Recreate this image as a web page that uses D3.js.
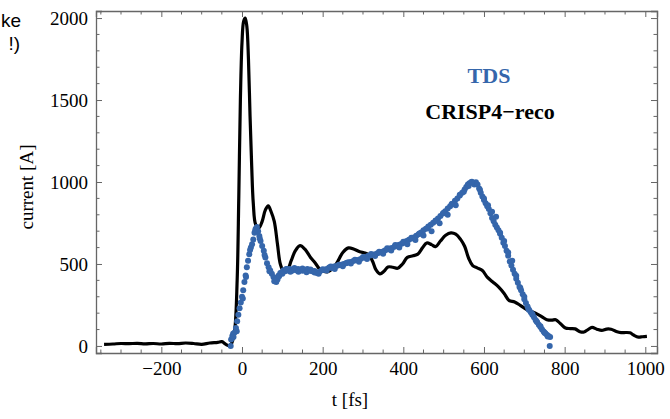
<!DOCTYPE html>
<html>
<head>
<meta charset="utf-8">
<script src="https://cdn.jsdelivr.net/npm/d3@7"></script>
<style>
  html, body { margin: 0; padding: 0; background: #fff; }
  svg { display: block; }
  text { font-family: "Liberation Serif", "Times New Roman", serif; }
</style>
</head>
<body>
<div id="chart"></div>
<script>
// CRISP4 reconstruction (solid black line): time [fs], current [A]
const crispT = [-342, -320, -300, -280, -260, -240, -220, -200, -180, -160, -140, -120, -100, -80, -60, -50, -40, -32, -25, -18,
  -12, -8, -4, 0, 4, 8, 12, 16, 20, 24, 28, 34, 42, 50, 58, 65, 72, 80, 88, 95,
  102, 112, 122, 132, 144, 156, 170, 182, 192, 202, 212, 224, 236, 250, 264, 278, 292, 305, 315, 324,
  332, 342, 352, 362, 374, 386, 398, 410, 424, 436, 448, 458, 470, 480, 492, 505, 518, 530, 542, 552,
  562, 572, 584, 596, 608, 622, 636, 650, 662, 676, 690, 706, 718, 731, 744, 756, 768, 778, 790, 802,
  814, 826, 838, 848, 858, 868, 880, 892, 904, 915, 928, 940, 952, 962, 972, 983, 993, 1004];
const crispI = [10, 12, 15, 14, 16, 13, 15, 12, 16, 14, 18, 15, 10, 18, 22, 26, 10, 2, 20, 100,
  400, 900, 1500, 1850, 1980, 2000, 1950, 1750, 1400, 1100, 870, 740, 720, 760, 830, 855, 820, 760, 620, 500,
  462, 462, 520, 580, 612, 590, 540, 505, 470, 455, 452, 470, 510, 570, 598, 590, 575, 567, 555, 515,
  465, 440, 455, 482, 480, 474, 500, 540, 550, 560, 600, 628, 618, 606, 640, 675, 690, 682, 650, 608,
  535, 490, 475, 460, 420, 390, 360, 320, 278, 268, 248, 222, 210, 196, 178, 160, 157, 160, 135, 110,
  106, 104, 87, 85, 100, 113, 102, 95, 103, 102, 88, 81, 82, 80, 65, 54, 56, 58];

// TDS measurement (blue dots): time [fs], current [A]
const tdsT = [-28, -27, -24, -22, -19, -15, -12, -9, -6, -3, 0, 3, 6, 9, 12, 15, 18, 22, 25, 28,
  31, 34, 37, 40, 43, 46, 50, 54, 58, 62, 66, 70, 74, 78, 82, 85, 88, 91, 95, 99,
  103, 107, 111, 115, 119, 124, 129, 134, 139, 144, 150, 156, 162, 168, 174, 180, 186, 192, 198, 204,
  210, 216, 222, 228, 234, 240, 246, 252, 258, 264, 270, 276, 282, 288, 294, 300, 306, 312, 318, 324,
  330, 336, 342, 348, 354, 360, 366, 372, 378, 384, 390, 396, 402, 408, 414, 420, 426, 432, 438, 444,
  450, 456, 462, 468, 474, 480, 486, 492, 498, 504, 510, 516, 522, 528, 534, 540, 546, 552, 556, 560,
  564, 568, 572, 576, 580, 584, 588, 592, 596, 600, 604, 608, 612, 616, 620, 624, 628, 632, 636, 640,
  644, 648, 652, 656, 660, 664, 668, 672, 676, 680, 684, 688, 692, 696, 700, 704, 708, 712, 716, 720,
  724, 728, 732, 736, 740, 744, 748, 752, 756, 760, 764, 763,
  -21, -13, 2, 10, 20, 33, 44, 56, 68, 80, 92,
  100, 110, 120, 130, 140, 150, 160, 170, 180, 190, 200, 210, 220, 230, 240, 250, 260, 270, 280, 290,
  300, 310, 320, 330, 340, 350, 360, 370, 380, 390, 400, 410, 420, 430, 440, 450, 460, 470, 480, 490,
  500, 510, 520, 530, 540, 550, 562, 570, 590, 600, 610, 620, 630, 640, 650, 660, 670, 680, 690, 700,
  710, 720, 730, 740, 750, 758];
const tdsI = [0, 40, 60, 75, 80, 110, 150, 190, 230, 265, 300, 340, 390, 430, 480, 520, 560, 600, 620, 650,
  690, 715, 725, 700, 670, 640, 610, 580, 540, 505, 480, 460, 440, 420, 400, 390, 405, 430, 445, 450,
  462, 455, 470, 460, 470, 458, 468, 462, 470, 465, 458, 462, 470, 458, 455, 448, 445, 452, 462, 465,
  470, 478, 475, 484, 488, 492, 495, 500, 505, 510, 512, 518, 522, 525, 530, 538, 540, 548, 552, 556,
  560, 565, 570, 575, 582, 588, 594, 598, 605, 612, 618, 624, 630, 640, 648, 655, 662, 672, 682, 692,
  705, 715, 728, 740, 752, 765, 778, 792, 808, 822, 838, 852, 868, 885, 900, 918, 935, 955, 970, 985,
  992, 998, 995, 985, 998, 985, 960, 935, 912, 890, 870, 852, 835, 810, 780, 760, 740, 722, 705, 685,
  660, 630, 610, 580, 550, 515, 490, 465, 440, 410, 385, 360, 340, 315, 285, 262, 240, 220, 205, 190,
  175, 158, 145, 130, 115, 100, 88, 78, 68, 60, 55, 0,
  55, 90, 290, 420, 585, 705, 655, 555, 455, 395, 425,
  440, 470, 452, 476, 452, 472, 450, 466, 457, 440, 468, 460, 484, 470, 496, 486, 508, 503, 526, 514,
  543, 531, 561, 548, 575, 563, 596, 582, 616, 600, 636, 620, 660, 646, 686, 674, 718, 700, 762, 748,
  812, 800, 866, 858, 922, 940, 976, 1002, 952, 900, 858, 818, 788, 690, 640, 570, 520, 428, 355, 300,
  225, 195, 150, 120, 80, 58];

const xMajor = [-200, 0, 200, 400, 600, 800, 1000];
const yMajor = [0, 500, 1000, 1500, 2000];
const legendLabels = ["TDS", "CRISP4\u2212reco"];

const width = 670, height = 419;
const blue = "#3566ab";
const frameColor = "#666";

const svg = d3.select("#chart").append("svg")
  .attr("width", width)
  .attr("height", height);

const x = d3.scaleLinear().domain([-362, 1029]).range([96, 657]);
const y = d3.scaleLinear().domain([-43, 2043]).range([353, 11]);

// clip to frame
svg.append("clipPath").attr("id", "clip")
  .append("rect")
  .attr("x", x.range()[0]).attr("y", y.range()[1])
  .attr("width", x.range()[1] - x.range()[0])
  .attr("height", y.range()[0] - y.range()[1]);

const plot = svg.append("g").attr("clip-path", "url(#clip)");

// black reconstruction line
const crisp = crispT.map((t, i) => [t, crispI[i]]);
plot.append("path")
  .datum(crisp)
  .attr("fill", "none")
  .attr("stroke", "#000")
  .attr("stroke-width", 3.2)
  .attr("stroke-linejoin", "round")
  .attr("d", d3.line().x(d => x(d[0])).y(d => y(d[1])).curve(d3.curveCatmullRom.alpha(0.5)));

// blue TDS dots
const tds = tdsT.map((t, i) => [t, tdsI[i]]);
plot.selectAll(".tds")
  .data(tds)
  .enter()
  .append("circle")
  .attr("class", "tds")
  .attr("cx", d => x(d[0]))
  .attr("cy", d => y(d[1]))
  .attr("r", 3)
  .attr("fill", blue);

// frame with inward ticks on all four sides
const tickLen = 6, minorLen = 3.5;
const xMinor = d3.range(-350, 1030, 50).filter(v => !xMajor.includes(v));
const yMinor = d3.range(0, 2001, 100).filter(v => !yMajor.includes(v));

const axisB = d3.axisBottom(x).tickValues(xMajor).tickSize(-tickLen).tickPadding(9)
  .tickFormat(d => d < 0 ? "\u2212" + Math.abs(d) : d);
const axisT = d3.axisTop(x).tickValues(xMajor).tickSize(-tickLen).tickFormat("");
const axisL = d3.axisLeft(y).tickValues(yMajor).tickSize(-tickLen).tickPadding(8)
  .tickFormat(d3.format("d"));
const axisR = d3.axisRight(y).tickValues(yMajor).tickSize(-tickLen).tickFormat("");

function styleAxis(g) {
  g.attr("font-family", null);
  g.select(".domain").attr("stroke", frameColor).attr("stroke-width", 1.3);
  g.selectAll(".tick line").attr("stroke", frameColor);
  g.selectAll(".tick text")
    .attr("fill", "#000")
    .style("font-family", "'Liberation Serif', serif")
    .style("font-size", "19px");
}

svg.append("g").attr("transform", `translate(0,${y.range()[0]})`).call(axisB).call(styleAxis);
svg.append("g").attr("transform", `translate(0,${y.range()[1]})`).call(axisT).call(styleAxis);
svg.append("g").attr("transform", `translate(${x.range()[0]},0)`).call(axisL).call(styleAxis);
svg.append("g").attr("transform", `translate(${x.range()[1]},0)`).call(axisR).call(styleAxis);

// minor ticks
const minor = svg.append("g").attr("stroke", frameColor);
xMinor.forEach(v => {
  minor.append("line").attr("x1", x(v)).attr("x2", x(v))
    .attr("y1", y.range()[0]).attr("y2", y.range()[0] - minorLen);
  minor.append("line").attr("x1", x(v)).attr("x2", x(v))
    .attr("y1", y.range()[1]).attr("y2", y.range()[1] + minorLen);
});
yMinor.forEach(v => {
  minor.append("line").attr("y1", y(v)).attr("y2", y(v))
    .attr("x1", x.range()[0]).attr("x2", x.range()[0] + minorLen);
  minor.append("line").attr("y1", y(v)).attr("y2", y(v))
    .attr("x1", x.range()[1]).attr("x2", x.range()[1] - minorLen);
});

// axis titles
svg.append("text")
  .attr("x", 350).attr("y", 406)
  .attr("text-anchor", "middle")
  .style("font-size", "19px")
  .text("t [fs]");

svg.append("text")
  .attr("transform", "translate(33,187) rotate(-90)")
  .attr("text-anchor", "middle")
  .style("font-size", "19px")
  .text("current [A]");

// legend
svg.append("text")
  .attr("x", 489).attr("y", 83)
  .attr("text-anchor", "middle")
  .attr("fill", blue)
  .style("font-size", "22px").style("font-weight", "bold")
  .text(legendLabels[0]);

svg.append("text")
  .attr("x", 490).attr("y", 119)
  .attr("text-anchor", "middle")
  .attr("fill", "#000")
  .style("font-size", "22px").style("font-weight", "bold")
  .text(legendLabels[1]);

// remains of a neighbouring annotation at the left edge
const frag = svg.append("g")
  .style("font-size", "19px")
  .attr("text-anchor", "end");
frag.append("text").attr("x", 21).attr("y", 27).style("font-family", "'Liberation Sans', sans-serif").text("ke");
frag.append("text").attr("x", 20).attr("y", 50).style("font-family", "'Liberation Sans', sans-serif").text("!)");
</script>
</body>
</html>
